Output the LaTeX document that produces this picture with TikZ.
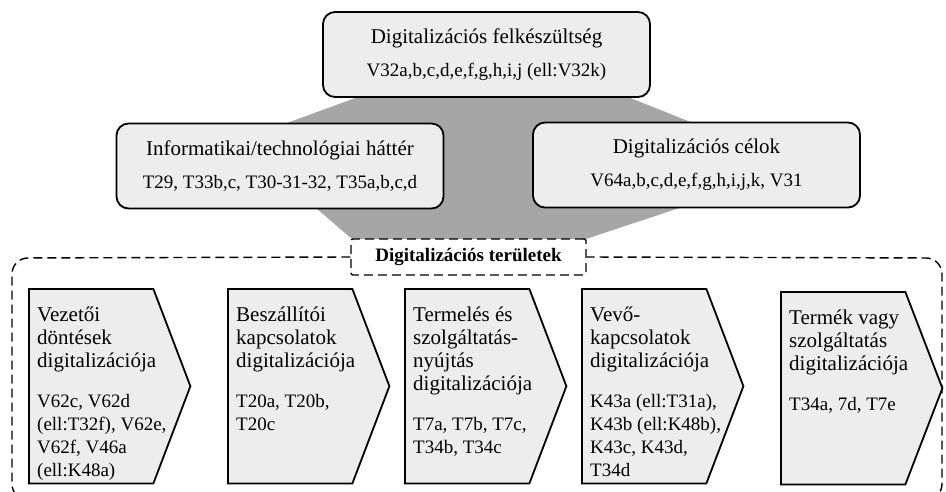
\documentclass[tikz,border=0pt]{standalone}
\usepackage{fontspec}
\setmainfont{Liberation Serif}
\usepackage{tikz}

\definecolor{boxfill}{HTML}{EDEDED}
\definecolor{linkgray}{HTML}{A6A6A6}
\newcommand{\codesize}{\fontsize{19}{23}\selectfont}
% chevron outline round an area node
\newcommand{\chevron}[1]{%
    \draw[areaedge] (#1.north west) -- ([xshift=-37pt]#1.north east) -- (#1.east)
        -- ([xshift=-37pt]#1.south east) -- (#1.south west) -- cycle;}

\begin{document}
\begin{tikzpicture}[x=1pt, y=-1pt,
    topbox/.style={rectangle, rounded corners=12pt, draw, line width=1.8pt, fill=boxfill,
        minimum width=327pt, minimum height=85pt, align=center,
        font=\fontsize{21}{23}\selectfont},
    area/.style={rectangle, minimum width=161pt, minimum height=194pt, inner sep=0pt, anchor=north west},
    areaedge/.style={draw, line width=1.8pt, fill=boxfill, line join=miter},
    areatitle/.style={anchor=north west, align=left, inner sep=0pt, font=\fontsize{21}{23}\selectfont},
    areacodes/.style={anchor=north west, align=left, inner sep=0pt, font=\codesize},
    frame/.style={line width=1.4pt, dash pattern=on 9pt off 5pt}]

    \useasboundingbox (0,0) rectangle (946,491);

    % grey band behind the upper boxes
    \fill[linkgray] (358,97) -- (628,97) -- (803,167) -- (586,239) -- (352,239) -- (238,141) -- cycle;

    \node[topbox] (ready) at (486.5,54.5) {Digitalizációs felkészültség\\[10pt]{\codesize V32a,b,c,d,e,f,g,h,i,j (ell:V32k)}};
    \node[topbox] (infra) at (280,166) {Informatikai/technológiai háttér\\[10pt]{\codesize T29, T33b,c, T30-31-32, T35a,b,c,d}};
    \node[topbox] (goals) at (696.5,165) {Digitalizációs célok\\[10pt]{\codesize V64a,b,c,d,e,f,g,h,i,j,k, V31}};

    % dashed frame of the areas
    \node[draw, frame, fill=white, rounded corners=2pt, minimum width=235pt, minimum height=36pt,
        font=\bfseries\fontsize{19}{21}\selectfont] (fields) at (468.5,257) {Digitalizációs területek};
    \draw[frame, rounded corners=16pt] (fields.west) -- (12,258) -- (12,500) -- (942,500) -- (942,258) -- (fields.east);

    \node[area] (d1) at (29,289) {};
    \node[area] (d2) at (228,289) {};
    \node[area] (d3) at (405,289) {};
    \node[area] (d4) at (582,289) {};
    \node[area, minimum height=192pt] (d5) at (781,292) {};
    \foreach \n in {d1,d2,d3,d4,d5}
        {\chevron{\n}}

    \node[areatitle] (t1) at (37,306.5) {Vezetői\\döntések\\digitalizációja};
    \node[areatitle] (t2) at (236,306.5) {Beszállítói\\kapcsolatok\\digitalizációja};
    \node[areatitle] (t3) at (413,306.5) {Termelés és\\szolgáltatás-\\nyújtás\\digitalizációja};
    \node[areatitle] (t4) at (590,306.5) {Vevő-\\kapcsolatok\\digitalizációja};
    \node[areatitle] (t5) at (789,309.5) {Termék vagy\\szolgáltatás\\digitalizációja};

    \node[areacodes] (c1) at ([yshift=-22pt]t1.south west) {V62c, V62d\\(ell:T32f), V62e,\\V62f, V46a\\(ell:K48a)};
    \node[areacodes] (c2) at ([yshift=-22pt]t2.south west) {T20a, T20b,\\T20c};
    \node[areacodes] (c3) at ([yshift=-22pt]t3.south west) {T7a, T7b, T7c,\\T34b, T34c};
    \node[areacodes] (c4) at ([yshift=-22pt]t4.south west) {K43a (ell:T31a),\\K43b (ell:K48b),\\K43c, K43d,\\T34d};
    \node[areacodes] (c5) at ([yshift=-22pt]t5.south west) {T34a, 7d, T7e};
\end{tikzpicture}
\end{document}
